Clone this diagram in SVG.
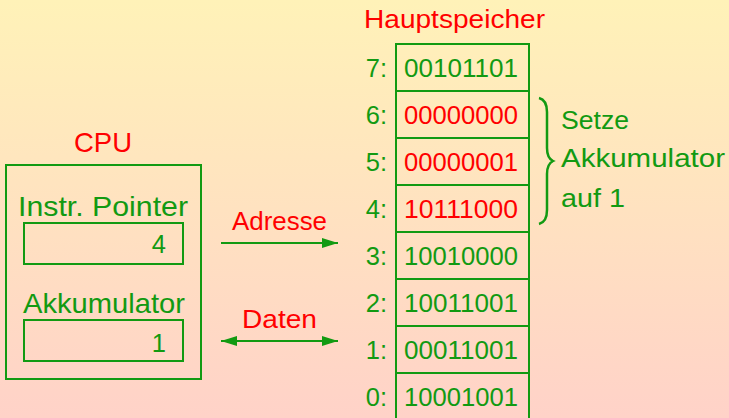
<svg xmlns="http://www.w3.org/2000/svg" width="729" height="418" viewBox="0 0 729 418">
<defs>
<linearGradient id="bg" x1="0" y1="0" x2="0" y2="1">
<stop offset="0" stop-color="#fff2b8"/>
<stop offset="1" stop-color="#ffd2c8"/>
</linearGradient>
<marker id="ah" viewBox="0 0 16 10" refX="16" refY="5" markerWidth="16" markerHeight="10" markerUnits="userSpaceOnUse" orient="auto-start-reverse">
<path d="M0,0 L16,5 L0,10 Z" fill="#129a12"/>
</marker>
<style>
text{font-family:"Liberation Sans",Arial,sans-serif;font-size:25.5px}
.big{font-size:28.5px}
.g{fill:#129a12}
.r{fill:#ff0000}
.box{fill:none;stroke:#129a12;stroke-width:2}
.ln{stroke:#129a12;stroke-width:2;fill:none}
.m{text-anchor:middle}
.e{text-anchor:end}
</style>
</defs>
<rect x="0" y="0" width="729" height="418" fill="url(#bg)"/>
<g id="cpu">
<text class="r m big" x="103" y="152" textLength="58" lengthAdjust="spacingAndGlyphs">CPU</text>
<rect class="box" x="6" y="165" width="195" height="214"/>
<text class="g big" x="18" y="216" textLength="170" lengthAdjust="spacingAndGlyphs">Instr. Pointer</text>
<rect class="box" x="24" y="223" width="159" height="41"/>
<text class="g e" x="166" y="253">4</text>
<text class="g big" x="23" y="313" textLength="162" lengthAdjust="spacingAndGlyphs">Akkumulator</text>
<rect class="box" x="24" y="320" width="159" height="41"/>
<text class="g e" x="166" y="352">1</text>
</g>
<g id="connectors">
<line class="ln" x1="221" y1="243" x2="338" y2="243" marker-end="url(#ah)"/>
<text class="r" x="232" y="230" textLength="95" lengthAdjust="spacingAndGlyphs">Adresse</text>
<line class="ln" x1="221" y1="341" x2="338" y2="341" marker-start="url(#ah)" marker-end="url(#ah)"/>
<text class="r" x="242" y="328" textLength="75" lengthAdjust="spacingAndGlyphs">Daten</text>
</g>
<g id="memory">
<text class="r" x="364" y="28" textLength="181" lengthAdjust="spacingAndGlyphs">Hauptspeicher</text>
<line class="ln" x1="396" y1="44" x2="396" y2="418"/>
<line class="ln" x1="529" y1="44" x2="529" y2="418"/>
<line class="ln" x1="395" y1="44" x2="530" y2="44"/>
<line class="ln" x1="396" y1="91" x2="529" y2="91"/>
<line class="ln" x1="396" y1="138" x2="529" y2="138"/>
<line class="ln" x1="396" y1="185" x2="529" y2="185"/>
<line class="ln" x1="396" y1="232" x2="529" y2="232"/>
<line class="ln" x1="396" y1="279" x2="529" y2="279"/>
<line class="ln" x1="396" y1="326" x2="529" y2="326"/>
<line class="ln" x1="396" y1="373" x2="529" y2="373"/>
<g id="cell7"><text class="g e" x="387" y="77">7:</text><text class="g m" x="461" y="77" textLength="114" lengthAdjust="spacingAndGlyphs">00101101</text></g>
<g id="cell6"><text class="g e" x="387" y="124">6:</text><text class="r m" x="461" y="124" textLength="114" lengthAdjust="spacingAndGlyphs">00000000</text></g>
<g id="cell5"><text class="g e" x="387" y="171">5:</text><text class="r m" x="461" y="171" textLength="114" lengthAdjust="spacingAndGlyphs">00000001</text></g>
<g id="cell4"><text class="g e" x="387" y="218">4:</text><text class="r m" x="461" y="218" textLength="114" lengthAdjust="spacingAndGlyphs">10111000</text></g>
<g id="cell3"><text class="g e" x="387" y="265">3:</text><text class="g m" x="461" y="265" textLength="114" lengthAdjust="spacingAndGlyphs">10010000</text></g>
<g id="cell2"><text class="g e" x="387" y="312">2:</text><text class="g m" x="461" y="312" textLength="114" lengthAdjust="spacingAndGlyphs">10011001</text></g>
<g id="cell1"><text class="g e" x="387" y="359">1:</text><text class="g m" x="461" y="359" textLength="114" lengthAdjust="spacingAndGlyphs">00011001</text></g>
<g id="cell0"><text class="g e" x="387" y="406">0:</text><text class="g m" x="461" y="406" textLength="114" lengthAdjust="spacingAndGlyphs">10001001</text></g>
</g>
<g id="note">
<path d="M539,98 Q547,100 547,112 L547,148 Q547,158 553,161 Q547,164 547,174 L547,210 Q547,222 539,224" fill="none" stroke="#129a12" stroke-width="2.5"/>
<text class="g" x="561" y="129" textLength="68" lengthAdjust="spacingAndGlyphs">Setze</text>
<text class="g" x="561" y="167" textLength="164" lengthAdjust="spacingAndGlyphs">Akkumulator</text>
<text class="g" x="561" y="207" textLength="64" lengthAdjust="spacingAndGlyphs">auf 1</text>
</g>
</svg>
